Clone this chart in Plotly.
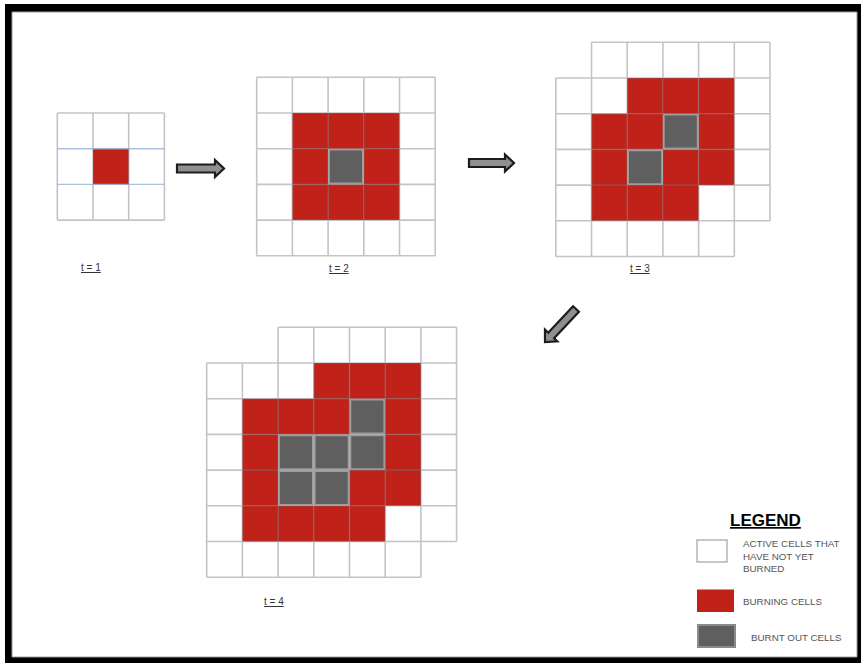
import plotly.graph_objects as go

# ---------------- data: cell states per time step ----------------
# W = active cell not yet burned, R = burning cell, B = burnt out cell, . = no cell
GRID_T1 = ["WWW",
           "WRW",
           "WWW"]
GRID_T2 = ["WWWWW",
           "WRRRW",
           "WRBRW",
           "WRRRW",
           "WWWWW"]
GRID_T3 = [".WWWWW",
           "WWRRRW",
           "WRRBRW",
           "WRBRRW",
           "WRRRWW",
           "WWWWW."]
GRID_T4 = ["..WWWWW",
           "WWWRRRW",
           "WRRRBRW",
           "WRBBBRW",
           "WRBBRRW",
           "WRRRRWW",
           "WWWWWW."]
STEP_LABELS = ["t = 1", "t = 2", "t = 3", "t = 4"]
LEGEND_TITLE = "LEGEND"
LEGEND_LABELS = ["ACTIVE CELLS THAT<br>HAVE NOT YET<br>BURNED", "BURNING CELLS", "BURNT OUT CELLS"]

# ---------------- layout / style ----------------
W, H = 861, 663
CELL = 35.7
RED = "#c0221a"
BURNT = "#5f5f5f"
BURNT_EDGE = "#9c9c9c"
GRID_LINE = "rgba(115,115,120,0.42)"
FONT = "Liberation Sans, Arial, sans-serif"
TEXT_GRAY = "#555555"

panels = [
    dict(grid=GRID_T1, x0=57.3, y0=113.0, label_xy=(91, 267)),
    dict(grid=GRID_T2, x0=256.7, y0=77.3, label_xy=(339, 268)),
    dict(grid=GRID_T3, x0=555.8, y0=42.3, label_xy=(640, 268)),
    dict(grid=GRID_T4, x0=206.7, y0=327.3, label_xy=(274, 601)),
]

shapes = []
annotations = []

# frame
shapes.append(dict(type="rect", xref="x", yref="y", x0=5, y0=4, x1=W, y1=H,
                   fillcolor="#000000", line=dict(width=0), layer="below"))
shapes.append(dict(type="rect", xref="x", yref="y", x0=12, y0=12, x1=857, y1=657,
                   fillcolor="#ffffff", line=dict(color="#9a9a9a", width=1), layer="below"))

for pi, p in enumerate(panels):
    g = p["grid"]
    x0, y0 = p["x0"], p["y0"]
    # fills for burning cells
    for r, row in enumerate(g):
        for c, s in enumerate(row):
            if s == "R":
                shapes.append(dict(type="rect", xref="x", yref="y",
                                   x0=x0 + c * CELL, x1=x0 + (c + 1) * CELL,
                                   y0=y0 + r * CELL, y1=y0 + (r + 1) * CELL,
                                   fillcolor=RED, line=dict(width=0)))
    # unique grid edges
    edges = set()
    for r, row in enumerate(g):
        for c, s in enumerate(row):
            if s == ".":
                continue
            edges.add(("h", r, c))
            edges.add(("h", r + 1, c))
            edges.add(("v", r, c))
            edges.add(("v", r, c + 1))
    path = ""
    blue_path = ""
    for kind, r, c in sorted(edges):
        if kind == "h":
            seg = "M %.2f %.2f L %.2f %.2f " % (x0 + c * CELL, y0 + r * CELL, x0 + (c + 1) * CELL, y0 + r * CELL)
            if pi == 0 and r in (1, 2):
                blue_path += seg
                continue
        else:
            seg = "M %.2f %.2f L %.2f %.2f " % (x0 + c * CELL, y0 + r * CELL, x0 + c * CELL, y0 + (r + 1) * CELL)
        path += seg
    shapes.append(dict(type="path", xref="x", yref="y", path=path,
                       line=dict(color=GRID_LINE, width=1.6)))
    if blue_path:
        shapes.append(dict(type="path", xref="x", yref="y", path=blue_path,
                           line=dict(color="rgba(150,175,215,0.8)", width=1.4)))
    # burnt cells
    for r, row in enumerate(g):
        for c, s in enumerate(row):
            if s == "B":
                shapes.append(dict(type="rect", xref="x", yref="y",
                                   x0=x0 + c * CELL + 1, x1=x0 + (c + 1) * CELL - 1,
                                   y0=y0 + r * CELL + 1, y1=y0 + (r + 1) * CELL - 1,
                                   fillcolor=BURNT, line=dict(color=BURNT_EDGE, width=1.6)))
    lx, ly = p["label_xy"]
    annotations.append(dict(x=lx, y=ly, xref="x", yref="y", showarrow=False,
                            text="<u>" + STEP_LABELS[pi] + "</u>",
                            font=dict(family=FONT, size=10, color="#333333")))


def block_arrow(xa, ya, xb, yb, shaft=8.0, head=17.0, head_len=9.0):
    dx, dy = xb - xa, yb - ya
    L = (dx * dx + dy * dy) ** 0.5
    ux, uy = dx / L, dy / L
    nx, ny = -uy, ux
    hx, hy = xb - ux * head_len, yb - uy * head_len
    pts = [
        (xa + nx * shaft / 2, ya + ny * shaft / 2),
        (hx + nx * shaft / 2, hy + ny * shaft / 2),
        (hx + nx * head / 2, hy + ny * head / 2),
        (xb, yb),
        (hx - nx * head / 2, hy - ny * head / 2),
        (hx - nx * shaft / 2, hy - ny * shaft / 2),
        (xa - nx * shaft / 2, ya - ny * shaft / 2),
    ]
    return "M " + " L ".join("%.2f %.2f" % pt for pt in pts) + " Z"


for (xa, ya, xb, yb) in [(177, 168.5, 224, 168.5), (469, 163, 514, 163), (576, 309, 545, 342)]:
    shapes.append(dict(type="path", xref="x", yref="y", path=block_arrow(xa, ya, xb, yb),
                       fillcolor="#8f8f8f", line=dict(color="#1c1c1c", width=2.2)))

# legend
annotations.append(dict(x=765, y=520, xref="x", yref="y", showarrow=False,
                        text="<b><u>" + LEGEND_TITLE + "</u></b>",
                        font=dict(family=FONT, size=17, color="#000000")))
shapes.append(dict(type="rect", xref="x", yref="y", x0=697, x1=727, y0=540, y1=562,
                   fillcolor="#ffffff", line=dict(color="#b5b5b5", width=1.5)))
shapes.append(dict(type="rect", xref="x", yref="y", x0=697, x1=734, y0=589.5, y1=612,
                   fillcolor=RED, line=dict(width=0)))
shapes.append(dict(type="rect", xref="x", yref="y", x0=698, x1=735, y0=625, y1=647,
                   fillcolor=BURNT, line=dict(color="#8a8a8a", width=2)))
annotations.append(dict(x=741, y=556, xref="x", yref="y", showarrow=False, xanchor="left",
                        align="left", text=LEGEND_LABELS[0],
                        font=dict(family=FONT, size=9.8, color=TEXT_GRAY)))
annotations.append(dict(x=741, y=601, xref="x", yref="y", showarrow=False, xanchor="left",
                        text=LEGEND_LABELS[1], font=dict(family=FONT, size=9.8, color=TEXT_GRAY)))
annotations.append(dict(x=749, y=637, xref="x", yref="y", showarrow=False, xanchor="left",
                        text=LEGEND_LABELS[2], font=dict(family=FONT, size=9.8, color=TEXT_GRAY)))

fig = go.Figure()
fig.update_layout(
    width=W, height=H,
    margin=dict(l=0, r=0, t=0, b=0),
    paper_bgcolor="#ffffff", plot_bgcolor="#ffffff",
    xaxis=dict(range=[0, W], visible=False, fixedrange=True),
    yaxis=dict(range=[H, 0], visible=False, fixedrange=True),
    shapes=shapes, annotations=annotations, showlegend=False,
)
fig.write_html("out.html", config={"displayModeBar": False},
               post_script="document.body.style.margin='0';document.body.style.overflow='hidden';")
